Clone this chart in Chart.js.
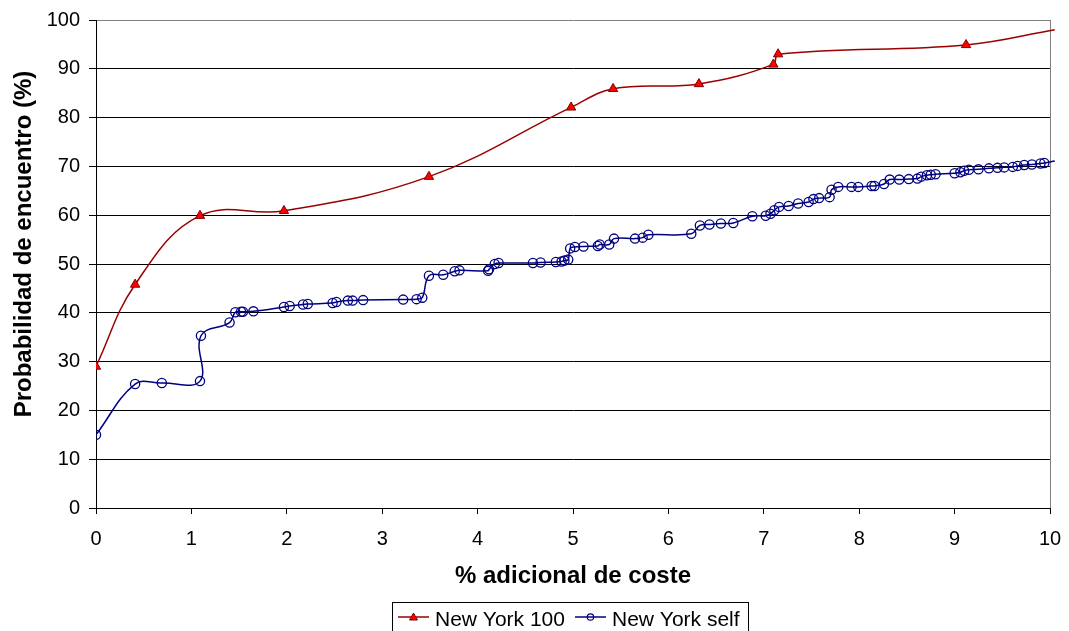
<!DOCTYPE html>
<html>
<head>
<meta charset="utf-8">
<script src="https://cdn.jsdelivr.net/npm/chart.js@4"></script>
<style>
  html, body { margin: 0; padding: 0; background: #fff; }
  #wrap { width: 1069px; height: 631px; position: relative; }
</style>
</head>
<body>
<div id="wrap"><canvas id="c" width="1069" height="631"></canvas></div>
<script>
// Series: % extra cost (x) vs. encounter probability (y)
const ny100X = [0, 0.41, 1.09, 1.97, 3.49, 4.98, 5.42, 6.32, 7.10, 7.15, 9.12, 10.05];
const ny100Y = [29, 45.8, 59.9, 60.9, 67.9, 82.1, 85.9, 86.9, 90.9, 93.0, 94.9, 98.0];

const nySelfX = [0, 0.41, 0.69, 1.09, 1.10, 1.40, 1.46, 1.52, 1.54, 1.65, 1.97, 2.03, 2.17, 2.22,
  2.48, 2.52, 2.64, 2.69, 2.80, 3.22, 3.36, 3.42, 3.49, 3.64, 3.76, 3.81, 4.11, 4.12, 4.18, 4.22,
  4.58, 4.66, 4.82, 4.88, 4.91, 4.95, 4.97, 5.02, 5.11, 5.26, 5.28, 5.38, 5.43, 5.65, 5.73, 5.79,
  6.24, 6.33, 6.43, 6.55, 6.68, 6.88, 7.02, 7.07, 7.11, 7.16, 7.26, 7.36, 7.47, 7.52, 7.58, 7.69,
  7.71, 7.78, 7.92, 7.99, 8.13, 8.16, 8.26, 8.32, 8.42, 8.52, 8.61, 8.65, 8.71, 8.75, 8.80, 9.00,
  9.06, 9.10, 9.15, 9.25, 9.36, 9.45, 9.52, 9.61, 9.66, 9.73, 9.81, 9.90, 9.94, 10.05];
const nySelfY = [15.0, 25.4, 25.6, 26.0, 35.3, 38.0, 40.1, 40.2, 40.2, 40.3, 41.2, 41.4, 41.7, 41.8,
  42.0, 42.2, 42.5, 42.5, 42.6, 42.7, 42.8, 43.1, 47.6, 47.8, 48.5, 48.7, 48.6, 48.9, 50.0, 50.2,
  50.2, 50.3, 50.4, 50.5, 50.7, 50.9, 53.2, 53.5, 53.6, 53.7, 54.0, 54.0, 55.2, 55.2, 55.4, 56.0,
  56.2, 57.9, 58.1, 58.3, 58.4, 59.8, 59.9, 60.3, 61.0, 61.7, 61.9, 62.4, 62.7, 63.3, 63.5, 63.7,
  65.2, 65.8, 65.8, 65.8, 66.0, 66.0, 66.4, 67.3, 67.3, 67.4, 67.5, 67.9, 68.2, 68.3, 68.4, 68.6,
  68.8, 69.1, 69.3, 69.4, 69.6, 69.7, 69.8, 69.9, 70.1, 70.3, 70.4, 70.6, 70.7, 71.1];

const seriesLabels = ['New York 100', 'New York self'];
const yTicks = [0, 10, 20, 30, 40, 50, 60, 70, 80, 90, 100];
const xTicks = [0, 1, 2, 3, 4, 5, 6, 7, 8, 9, 10];
const xTitle = '% adicional de coste';
const yTitle = 'Probabilidad de encuentro (%)';

const FONT = '"Liberation Sans", Arial, sans-serif';
const RED_LINE = '#990000';
const NAVY = '#000080';

const toPoints = (xs, ys) => xs.map((x, i) => ({ x, y: ys[i] }));
// markers only inside the axis range; the line runs on to the frame edge
const radiusInRange = r => ctx => (ctx.raw && ctx.raw.x > 10 ? 0 : r);

// Vertical axis title, set a little above the middle of the plot
const yAxisTitle = {
  id: 'yAxisTitle',
  afterDraw(chart) {
    const ctx = chart.ctx;
    ctx.save();
    ctx.translate(24, 244);
    ctx.rotate(-Math.PI / 2);
    ctx.font = 'bold 24px ' + FONT;
    ctx.fillStyle = '#000';
    ctx.textAlign = 'center';
    ctx.textBaseline = 'middle';
    ctx.fillText(yTitle, 0, 0);
    ctx.restore();
  }
};

// Legend drawn as a boxed row: line sample + marker + label
const boxedLegend = {
  id: 'boxedLegend',
  afterDraw(chart) {
    const ctx = chart.ctx;
    ctx.save();
    ctx.font = '21px ' + FONT;
    ctx.textBaseline = 'alphabetic';
    const left = 392, top = 602.5, sampleLen = 31, y = 617;
    let x = left + 6;
    chart.data.datasets.forEach((ds) => {
      ctx.strokeStyle = ds.borderColor;
      ctx.lineWidth = 1.5;
      ctx.beginPath();
      ctx.moveTo(x, y);
      ctx.lineTo(x + sampleLen, y);
      ctx.stroke();
      const cx = x + sampleLen / 2;
      if (ds.pointStyle === 'triangle') {
        ctx.fillStyle = ds.pointBackgroundColor;
        ctx.strokeStyle = ds.pointBorderColor;
        ctx.lineWidth = 1;
        ctx.beginPath();
        ctx.moveTo(cx, y - 4);
        ctx.lineTo(cx + 4, y + 3);
        ctx.lineTo(cx - 4, y + 3);
        ctx.closePath();
        ctx.fill();
        ctx.stroke();
      } else {
        ctx.strokeStyle = ds.pointBorderColor;
        ctx.lineWidth = 1.2;
        ctx.beginPath();
        ctx.arc(cx, y, 3.2, 0, Math.PI * 2);
        ctx.stroke();
      }
      x += sampleLen + 6;
      ctx.fillStyle = '#000';
      ctx.fillText(ds.label, x, 625.5);
      x += ctx.measureText(ds.label).width + 10;
    });
    ctx.strokeStyle = '#000';
    ctx.lineWidth = 1;
    ctx.strokeRect(left + 0.5, top, 356, 32);
    ctx.restore();
  }
};

new Chart(document.getElementById('c'), {
  type: 'scatter',
  data: {
    datasets: [
      {
        label: seriesLabels[0],
        data: toPoints(ny100X, ny100Y),
        showLine: true,
        tension: 0.4,
        borderColor: RED_LINE,
        borderWidth: 1.5,
        pointStyle: 'triangle',
        pointRadius: radiusInRange(5.4),
        pointBackgroundColor: '#FF0000',
        pointBorderColor: '#800000',
        pointBorderWidth: 1,
        clip: { left: 0, top: 0, right: 6, bottom: 0 }
      },
      {
        label: seriesLabels[1],
        data: toPoints(nySelfX, nySelfY),
        showLine: true,
        tension: 0.4,
        borderColor: NAVY,
        borderWidth: 1.5,
        pointStyle: 'circle',
        pointRadius: radiusInRange(4.6),
        pointBackgroundColor: 'rgba(0,0,0,0)',
        pointBorderColor: NAVY,
        pointBorderWidth: 1.3,
        clip: { left: 0, top: 0, right: 6, bottom: 0 }
      }
    ]
  },
  options: {
    responsive: false,
    animation: false,
    events: [],
    layout: { padding: { left: 0, right: 19, top: 20, bottom: 40 } },
    plugins: {
      legend: { display: false },
      tooltip: { enabled: false }
    },
    scales: {
      x: {
        type: 'linear',
        min: 0,
        max: 10,
        afterFit: s => { s.height = 83; s.paddingLeft = 0; s.paddingRight = 0; },
        afterBuildTicks: s => { s.ticks = xTicks.map(v => ({ value: v })); },
        ticks: { color: '#000', font: { family: FONT, size: 20 }, padding: 13, maxRotation: 0 },
        grid: {
          drawOnChartArea: true,
          color: c => (c.tick && c.tick.value === 10 ? '#808080' : 'rgba(0,0,0,0)'),
          tickColor: '#000',
          tickLength: 6,
          lineWidth: 1
        },
        border: { display: true, color: '#000', width: 1 },
        title: {
          display: true,
          text: xTitle,
          color: '#000',
          font: { family: FONT, size: 24, weight: 'bold' },
          padding: { top: 0, bottom: 0 }
        }
      },
      y: {
        type: 'linear',
        min: 0,
        max: 100,
        afterFit: s => { s.width = 96; s.paddingTop = 0; s.paddingBottom = 0; },
        afterBuildTicks: s => { s.ticks = yTicks.map(v => ({ value: v })); },
        ticks: { color: '#000', font: { family: FONT, size: 20 }, padding: 9 },
        grid: {
          color: c => (c.tick && c.tick.value === 100 ? '#808080' : '#000'),
          tickColor: '#000',
          tickLength: 7,
          lineWidth: 1
        },
        border: { display: true, color: '#000', width: 1 },
        title: { display: false }
      }
    }
  },
  plugins: [yAxisTitle, boxedLegend]
});
</script>
</body>
</html>
